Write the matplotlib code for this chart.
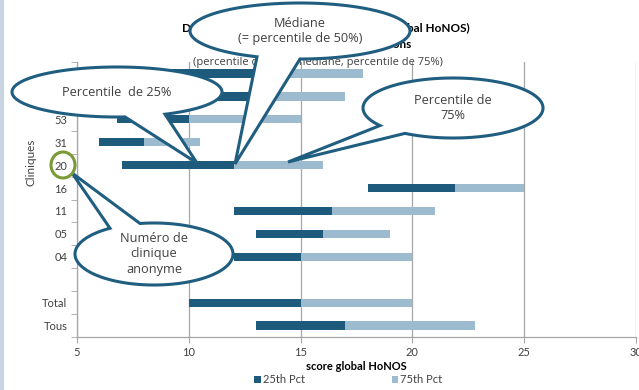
import numpy as np
from matplotlib import pyplot as plt
from matplotlib.patches import Polygon, Ellipse

# categories top -> bottom (top two are hidden behind a callout)
cliniques = ["07", "12", "53", "31", "20", "16", "11", "05", "04", "", "Total", "Tous"]
pct25 = [9.0, 10.0, 6.8, 6.0, 7.0, 18.0, 12.0, 13.0, 12.0, np.nan, 10.0, 13.0]
mediane = [13.0, 13.2, 10.0, 8.0, 12.0, 21.9, 16.4, 16.0, 15.0, np.nan, 15.0, 17.0]
pct75 = [17.8, 17.0, 15.0, 10.5, 16.0, 25.0, 21.0, 19.0, 20.0, np.nan, 20.0, 22.8]

DARK = "#1d5a7c"
LIGHT = "#9dbbce"
EDGE = "#1f5e80"
GRID = "#a6a6a6"
TXT = "#404040"

plt.rcParams["font.family"] = ["Lato", "DejaVu Sans"]


def callout(ax, cx, cy, a, b, bx1, bx2, side, tip, text, size=9.2):
    # ellipse with a wedge pointer, drawn in figure pixel coords (y down)
    t1 = side * np.arccos(np.clip((bx1 - cx) / a, -1, 1)) % (2 * np.pi)
    t2 = side * np.arccos(np.clip((bx2 - cx) / a, -1, 1)) % (2 * np.pi)
    lo, hi = sorted([t1, t2])
    if hi - lo < np.pi:
        ts = np.linspace(hi, lo + 2 * np.pi, 200)
    else:
        ts = np.linspace(lo, hi, 200)
    pts = np.column_stack([cx + a * np.cos(ts), cy + b * np.sin(ts)])
    pts = np.vstack([pts, tip])
    ax.add_patch(Polygon(pts, closed=True, fc="white", ec=EDGE, lw=2.2, zorder=5))
    ax.text(cx, cy, text, ha="center", va="center", fontsize=size, color=TXT,
            family=["Open Sans", "DejaVu Sans"], linespacing=1.25, zorder=6)


fig = plt.figure(figsize=(6.39, 3.90), dpi=100)
ax = fig.add_axes([77 / 639, 53 / 390, 559 / 639, 275 / 390])

n = len(cliniques)
ypos = np.arange(n)[::-1]
p25 = np.array(pct25)
med = np.array(mediane)
p75 = np.array(pct75)

ax.barh(ypos, med - p25, left=p25, height=0.36, color=DARK, label="25th Pct", zorder=3)
ax.barh(ypos, p75 - med, left=med, height=0.36, color=LIGHT, label="75th Pct", zorder=3)

ax.set_xlim(5, 30)
ax.set_ylim(-0.5, n - 0.5)
ax.set_xticks([5, 10, 15, 20, 25, 30])
ax.set_yticks(ypos)
ax.set_yticklabels(cliniques)
ax.set_yticks(np.arange(n + 1) - 0.5, minor=True)
ax.tick_params(axis="y", which="major", length=0, pad=7, labelsize=8, labelcolor=TXT)
ax.tick_params(axis="y", which="minor", length=4, color=GRID, direction="out")
ax.tick_params(axis="x", length=4, color=GRID, labelsize=8, labelcolor=TXT, pad=3)
ax.grid(axis="x", color=GRID, lw=0.9, zorder=0)
for s in ["top", "right"]:
    ax.spines[s].set_visible(False)
for s in ["left", "bottom"]:
    ax.spines[s].set_color(GRID)
    ax.spines[s].set_linewidth(0.9)
ax.set_xlabel("score global HoNOS", fontsize=8, fontweight="bold", labelpad=2, color="black")
ax.set_ylabel("Cliniques", fontsize=8.5, color=TXT)
ax.yaxis.set_label_coords(-0.072, 0.636)

fig.legend(loc="center", bbox_to_anchor=(0.545, 0.027), ncol=2, frameon=False,
           fontsize=8, handlelength=0.6, handleheight=0.6, handletextpad=0.2,
           columnspacing=7.8, labelcolor=TXT)

# overlay in pixel coords for title and callouts
ov = fig.add_axes([0, 0, 1, 1], zorder=10)
ov.set_xlim(0, 639)
ov.set_ylim(390, 0)
ov.axis("off")
ov.patch.set_visible(False)

ov.plot([2, 2], [0, 390], color="#c9d5e1", lw=3, zorder=1)
ov.text(326, 28, "Degré de gravité des symptômes (score global HoNOS)", ha="center",
        va="center", fontsize=8.5, fontweight="bold", zorder=1)
ov.text(320, 45, "admission, cliniques des addictions", ha="center",
        va="center", fontsize=8.5, fontweight="bold", zorder=1)
ov.text(318, 62, "(percentile de 25%, médiane, percentile de 75%)", ha="center",
        va="center", fontsize=8, color=TXT, family=["Open Sans", "DejaVu Sans"], zorder=1)

callout(ov, 300, 31, 110, 28, 257, 300, 1, (235, 164), "Médiane\n(= percentile de 50%)")
callout(ov, 117, 92, 105, 25, 125, 165, 1, (197, 163), "Percentile  de 25%")
callout(ov, 453, 108, 90, 30, 380, 405, 1, (288, 162), "Percentile de\n75%")
callout(ov, 154, 254, 79, 31, 110, 140, -1, (72, 173), "Numéro de\nclinique\nanonyme")

ov.add_patch(Ellipse((63, 165), 24, 26, fill=False, ec="#7a9a35", lw=2.2, zorder=7))

fig.savefig("out.png", dpi=100)
